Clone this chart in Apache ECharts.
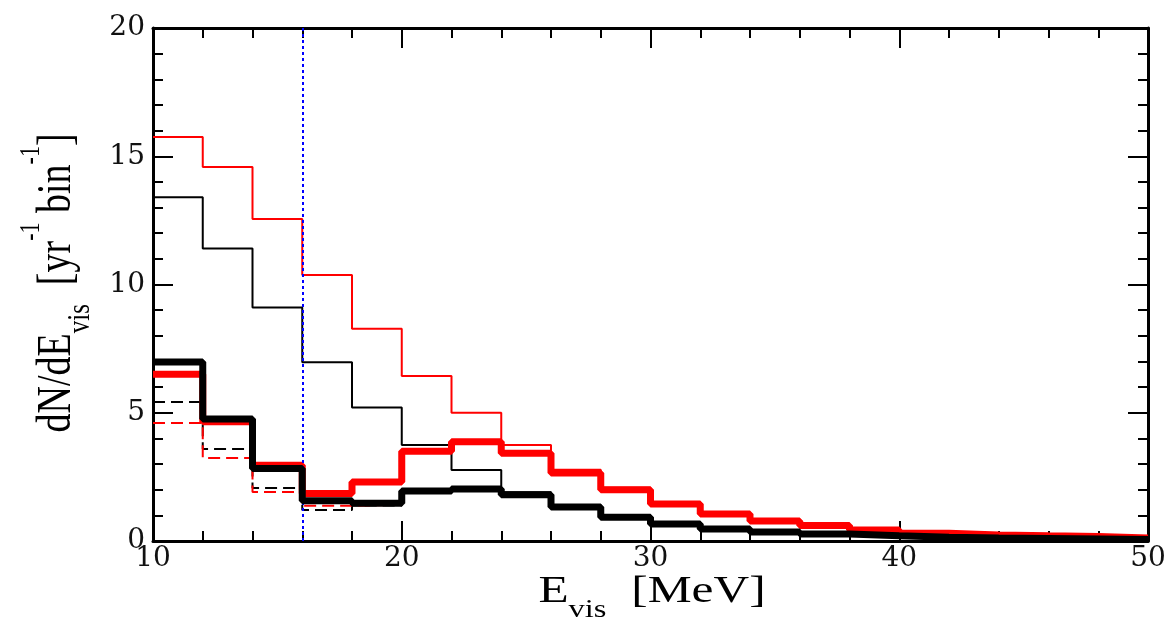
<!DOCTYPE html>
<html>
<head>
<meta charset="utf-8">
<script src="https://cdn.jsdelivr.net/npm/echarts@6/dist/echarts.min.js"></script>
<style>
  html, body { margin: 0; padding: 0; background: #fff; }
  #chart { width: 1176px; height: 622px; }
</style>
</head>
<body>
<div id="chart"></div>
<script>
// bin edges in MeV (2 MeV bins from 10 to 50)
const edges = [10, 12, 14, 16, 18, 20, 22, 24, 26, 28, 30, 32, 34, 36, 38, 40, 42, 44, 46, 48, 50];

// values per bin [yr^-1 bin^-1]
const thinRed    = [15.75, 14.58, 12.55, 10.37, 8.27, 6.43, 5.0, 3.74, 2.78, 2.08, 1.5, 1.1, 0.82, 0.63, 0.46, 0.33, 0.26, 0.22, 0.2, 0.14];
const thinBlack  = [13.4, 11.4, 9.1, 6.97, 5.2, 3.74, 2.77, 1.9, 1.4, 1.0, 0.72, 0.52, 0.39, 0.3, 0.23, 0.18, 0.14, 0.12, 0.1, 0.08];
const dashBlack  = [5.42, 3.59, 2.07, 1.21, 1.38, 1.88, 1.97, 1.74, 1.28, 0.9, 0.63, 0.45, 0.33, 0.26, 0.19, 0.14, 0.11, 0.09, 0.07, 0.05];
const dashRed    = [4.6, 3.24, 1.91, 1.37, 1.42, 1.9, 1.99, 1.76, 1.3, 0.91, 0.64, 0.46, 0.34, 0.26, 0.2, 0.15, 0.12, 0.1, 0.08, 0.06];
const thickRed   = [6.5, 4.65, 2.95, 1.85, 2.3, 3.5, 3.87, 3.42, 2.65, 2.0, 1.44, 1.05, 0.78, 0.6, 0.43, 0.3, 0.23, 0.2, 0.18, 0.12];
const thickBlack = [6.98, 4.76, 2.83, 1.57, 1.47, 1.95, 2.03, 1.8, 1.33, 0.93, 0.66, 0.47, 0.35, 0.27, 0.2, 0.15, 0.12, 0.1, 0.08, 0.06];

const xTicks = [10, 20, 30, 40, 50];
const yTicks = [0, 5, 10, 15, 20];
const threshold = 16;

// step points: value of bin i starts at edge i, last edge closes the final bin
const toSteps = vals => edges.map((e, i) => [e, vals[Math.min(i, vals.length - 1)]]);

const hist = (name, vals, color, width, type, z) => ({
  name, type: 'line', step: 'end', showSymbol: false, z,
  data: toSteps(vals),
  lineStyle: { color, width, type },
  emphasis: { disabled: true }
});

const labelFont = { fontFamily: 'DejaVu Serif', fontSize: 28, color: '#111' };
const tickCommon = {
  axisTick: { show: true, inside: true, length: 20, lineStyle: { color: '#000', width: 2 } },
  minorTick: { show: true, splitNumber: 5, length: 10, lineStyle: { color: '#000', width: 2 } },
  axisLine: { show: true, onZero: false, lineStyle: { color: '#000', width: 3 } },
  splitLine: { show: false }
};

const chart = echarts.init(document.getElementById('chart'));

const serif = 'Liberation Serif';
const rich = {
  m: { fontFamily: serif, fontSize: 38, color: '#111' },
  s: { fontFamily: serif, fontSize: 25, color: '#111', verticalAlign: 'bottom', padding: [36, 0, 0, 0] },
  p: { fontFamily: serif, fontSize: 22, color: '#111', verticalAlign: 'top', padding: [0, 0, 36, 0] }
};

chart.setOption({
  animation: false,
  backgroundColor: '#fff',
  grid: { left: 153, right: 28, top: 28, bottom: 81, containLabel: false },
  xAxis: [
    Object.assign({
      type: 'value', min: xTicks[0], max: xTicks[xTicks.length - 1], interval: 10,
      axisLabel: Object.assign({ margin: 4 }, labelFont)
    }, tickCommon),
    Object.assign({
      type: 'value', position: 'top', min: xTicks[0], max: xTicks[xTicks.length - 1], interval: 10,
      axisLabel: { show: false }
    }, tickCommon)
  ],
  yAxis: [
    Object.assign({
      type: 'value', min: yTicks[0], max: yTicks[yTicks.length - 1], interval: 5,
      axisLabel: Object.assign({ margin: 8 }, labelFont)
    }, tickCommon),
    Object.assign({
      type: 'value', position: 'right', min: yTicks[0], max: yTicks[yTicks.length - 1], interval: 5,
      axisLabel: { show: false }
    }, tickCommon)
  ],
  series: [
    hist('thin red', thinRed, '#ff0000', 2, 'solid', 2),
    hist('thin black', thinBlack, '#000', 2, 'solid', 2),
    hist('dashed black', dashBlack, '#000', 2, [12, 6], 3),
    hist('dashed red', dashRed, '#ff0000', 2, [12, 6], 3),
    hist('thick red', thickRed, '#ff0000', 7, 'solid', 4),
    hist('thick black', thickBlack, '#000', 7, 'solid', 5),
    {
      name: 'threshold', type: 'line', data: [], z: 10,
      markLine: {
        silent: true, symbol: ['none', 'none'], label: { show: false },
        lineStyle: { color: '#0000ff', width: 2, type: [3, 3] },
        data: [{ xAxis: threshold }]
      }
    }
  ],
  graphic: [
    {
      type: 'text', x: 652, y: 592, scaleX: 1.3,
      style: {
        text: '{m|E}{s|vis}{m|  [MeV]}',
        rich, align: 'center', verticalAlign: 'middle'
      }
    },
    {
      type: 'text', x: 57, y: 283, rotation: Math.PI / 2, scaleY: 1.3,
      style: {
        text: '{m|dN/dE}{s|vis}{m|  [yr}{p|-1}{m| bin}{p|-1}{m|]}',
        rich, align: 'center', verticalAlign: 'middle'
      }
    }
  ]
});
</script>
</body>
</html>
